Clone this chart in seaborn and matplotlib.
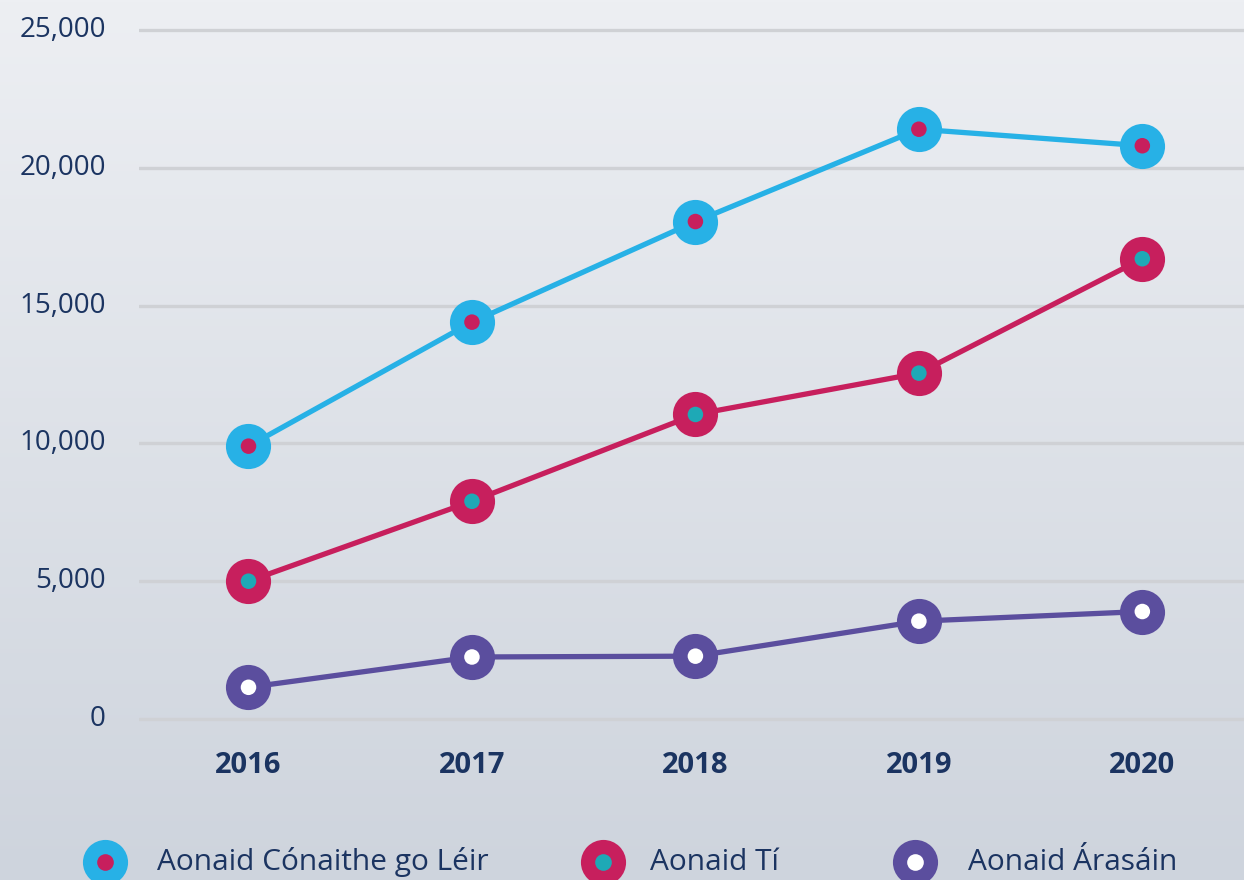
import numpy as np
import matplotlib
matplotlib.use("Agg")
import matplotlib.pyplot as plt
import seaborn as sns
from matplotlib.lines import Line2D

# Residential units completed per year
years = ["2016", "2017", "2018", "2019", "2020"]
all_units = [9900, 14400, 18050, 21400, 20800]
houses = [5000, 7900, 11050, 12550, 16700]
apartments = [1150, 2250, 2280, 3550, 3900]
series_names = ["Aonaid Cónaithe go Léir", "Aonaid Tí", "Aonaid Árasáin"]
y_ticks = [0, 5000, 10000, 15000, 20000, 25000]

outer_colors = ["#27b1e6", "#c71f5d", "#5b4e9e"]
inner_colors = ["#c71f5d", "#1ea9b6", "#ffffff"]
text_color = "#1b3461"

sns.set_theme(style="white")
plt.rcParams["font.family"] = ["Open Sans", "DejaVu Sans"]

W, H = 1244, 880
fig = plt.figure(figsize=(W / 100, H / 100), dpi=100)

# soft vertical gradient behind everything
bg = fig.add_axes([0, 0, 1, 1], zorder=-10)
t = np.linspace(0, 1, 256)[:, None, None]
top = np.array([237, 239, 243]) / 255
bottom = np.array([206, 212, 221]) / 255
bg.imshow(top + (bottom - top) * t, aspect="auto", extent=[0, 1, 0, 1])
bg.axis("off")

# plotting area: 0 at y=719px, 25,000 at y=30px
px_per_unit = (719 - 30) / 25000
ax_top_px, ax_bot_px = 10, 740
ax = fig.add_axes([139 / W, 1 - ax_bot_px / H, 1 - 139 / W, (ax_bot_px - ax_top_px) / H])
ax.patch.set_alpha(0)

series = [all_units, houses, apartments]
for vals, oc, ic in zip(series, outer_colors, inner_colors):
    sns.lineplot(x=years, y=vals, color=oc, linewidth=3.8, marker="o",
                 markersize=32.5, markeredgewidth=0, sort=False, ax=ax, zorder=3)
    sns.scatterplot(x=years, y=vals, color=ic, s=125, edgecolor="none",
                    ax=ax, zorder=4)

ax.set_xlim(-0.49, 4.455)
ax.set_ylim(-(ax_bot_px - 719) / px_per_unit, 25000 + (30 - ax_top_px) / px_per_unit)
ax.set_yticks(y_ticks)
ax.set_yticklabels([f"{v:,}" for v in y_ticks])
ax.grid(axis="y", color="#cfd1d5", linewidth=2.4, zorder=0)
ax.grid(axis="x", visible=False)
for s in ax.spines.values():
    s.set_visible(False)
ax.tick_params(axis="y", length=0, pad=24, labelsize=20, labelcolor=text_color)
ax.tick_params(axis="x", length=0, pad=8, labelsize=21, labelcolor=text_color)
for lbl in ax.get_xticklabels():
    lbl.set_fontweight("bold")
for lbl in ax.get_yticklabels():
    lbl.set_va("center")
ax.set_xlabel("")
ax.set_ylabel("")

# legend row along the bottom edge
legend_pos = [(105, 157), (603, 650), (915, 968)]
legend_y = 862
for (mx, tx), name, oc, ic in zip(legend_pos, series_names, outer_colors, inner_colors):
    fig.add_artist(Line2D([mx / W], [1 - legend_y / H], transform=fig.transFigure,
                          marker="o", markersize=32.5, markeredgewidth=0, color=oc, linestyle="none"))
    fig.add_artist(Line2D([mx / W], [1 - legend_y / H], transform=fig.transFigure,
                          marker="o", markersize=12, markeredgewidth=0, color=ic, linestyle="none"))
    fig.text(tx / W, 1 - legend_y / H, name, fontsize=21.5, color=text_color,
             ha="left", va="center")

fig.savefig("out.png", dpi=100)
